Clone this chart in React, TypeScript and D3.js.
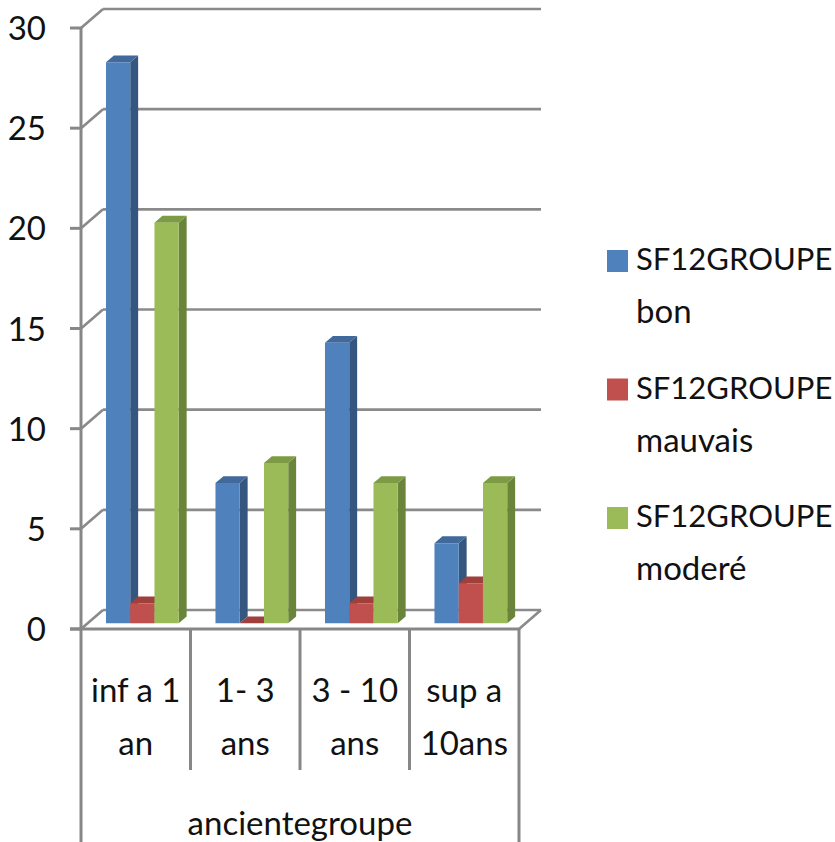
import React from "react";
import * as d3 from "d3";

const categoryLines: string[][] = [
  ["inf a 1", "an"],
  ["1- 3", "ans"],
  ["3 - 10", "ans"],
  ["sup a", "10ans"],
];
const axisTitle = "ancientegroupe";
const seriesNames: string[][] = [
  ["SF12GROUPE", "bon"],
  ["SF12GROUPE", "mauvais"],
  ["SF12GROUPE", "moderé"],
];
const bon = [28, 7, 14, 4];
const mauvais = [1, 0, 1, 2];
const modere = [20, 8, 7, 7];
const yTicks = [0, 5, 10, 15, 20, 25, 30];

const seriesValues = [bon, mauvais, modere];
const palette = [
  { front: "#4F81BD", top: "#41699B", side: "#35577F" },
  { front: "#C0504D", top: "#9F403D", side: "#8A3735" },
  { front: "#9BBB59", top: "#7D9B44", side: "#6A853A" },
];

const FONT = "Lato, 'Open Sans', sans-serif";
const FS = 33;
const DX = 22;
const DY = -19;
const ZF = 0.3;
const ZB = 0.66;
const GRID = "#8A8A8A";

export default function App() {
  const W = 835;
  const H = 842;
  const x0 = 81;
  const x1 = 519;
  const y = d3.scaleLinear().domain([0, 30]).range([629, 28]);
  const xCat = d3
    .scaleBand<number>()
    .domain(categoryLines.map((_, i) => i))
    .range([x0, x1])
    .padding(0);
  const xSer = d3
    .scaleBand<number>()
    .domain([0, 1, 2])
    .range([0, xCat.bandwidth()])
    .paddingInner(0)
    .paddingOuter(0.758);

  const y0 = y(0);
  const pt = (px: number, py: number, z: number) => `${px + DX * z},${py + DY * z}`;

  const bars: React.ReactNode[] = [];
  categoryLines.forEach((_, ci) => {
    seriesValues.forEach((vals, si) => {
      const v = vals[ci];
      const xl = (xCat(ci) as number) + (xSer(si) as number);
      const xr = xl + xSer.bandwidth();
      const yv = y(v);
      const c = palette[si];
      bars.push(
        <g key={`${ci}-${si}`}>
          <polygon
            points={[pt(xr, yv, ZF), pt(xr, yv, ZB), pt(xr, y0, ZB), pt(xr, y0, ZF)].join(" ")}
            fill={c.side}
          />
          <polygon
            points={[pt(xl, yv, ZF), pt(xr, yv, ZF), pt(xr, yv, ZB), pt(xl, yv, ZB)].join(" ")}
            fill={c.top}
          />
          {v > 0 && (
            <polygon
              points={[pt(xl, yv, ZF), pt(xr, yv, ZF), pt(xr, y0, ZF), pt(xl, y0, ZF)].join(" ")}
              fill={c.front}
            />
          )}
        </g>
      );
    });
  });

  return (
    <svg
      width={W}
      height={H}
      style={{ position: "absolute", left: 0, top: 0, background: "#fff" }}
      fontFamily={FONT}
    >
      {yTicks.map((t) => (
        <g key={`g${t}`} stroke={GRID} strokeWidth={2.6} fill="none">
          <line x1={x0 + DX} y1={y(t) + DY} x2={x1 + DX} y2={y(t) + DY} />
          <line x1={x0} y1={y(t)} x2={x0 + DX} y2={y(t) + DY} />
        </g>
      ))}
      <line x1={x1} y1={y0} x2={x1 + DX} y2={y0 + DY} stroke={GRID} strokeWidth={2.6} />

      {bars}

      <line x1={x0} y1={y(30) - 1} x2={x0} y2={y0} stroke="#878787" strokeWidth={3} />
      {yTicks.map((t) => (
        <g key={`t${t}`}>
          <line x1={70} y1={y(t)} x2={x0} y2={y(t)} stroke="#878787" strokeWidth={3} />
          <text x={46} y={y(t) + 12} textAnchor="end" fontSize={FS} fill="#111">
            {t}
          </text>
        </g>
      ))}

      <line x1={70} y1={y0} x2={x1} y2={y0} stroke="#878787" strokeWidth={3} />
      {categoryLines.map((_, i) => {
        const bx = xCat(i) as number;
        return i === 0 ? null : (
          <line key={`d${i}`} x1={bx} y1={y0} x2={bx} y2={770} stroke="#878787" strokeWidth={3} />
        );
      })}
      <line x1={x0} y1={y0} x2={x0} y2={H} stroke="#878787" strokeWidth={3} />
      <line x1={x1} y1={y0} x2={x1} y2={H} stroke="#878787" strokeWidth={3} />
      {categoryLines.map((lines, i) => {
        const cx = (xCat(i) as number) + xCat.bandwidth() / 2;
        return (
          <text key={`c${i}`} textAnchor="middle" fontSize={FS} fill="#111">
            {lines.map((l, k) => (
              <tspan key={k} x={cx} y={702 + k * 53}>
                {l}
              </tspan>
            ))}
          </text>
        );
      })}
      <text x={(x0 + x1) / 2} y={835} textAnchor="middle" fontSize={FS} fill="#111">
        {axisTitle}
      </text>

      {seriesNames.map((lines, i) => {
        const by = 270 + i * 128.5;
        return (
          <g key={`l${i}`}>
            <rect x={607} y={by - 20} width={21} height={22} fill={palette[i].front} />
            {lines.map((l, k) => (
              <text key={k} x={636} y={by + k * 53} fontSize={k === 0 ? 31 : FS} fill="#111">
                {l}
              </text>
            ))}
          </g>
        );
      })}
    </svg>
  );
}
